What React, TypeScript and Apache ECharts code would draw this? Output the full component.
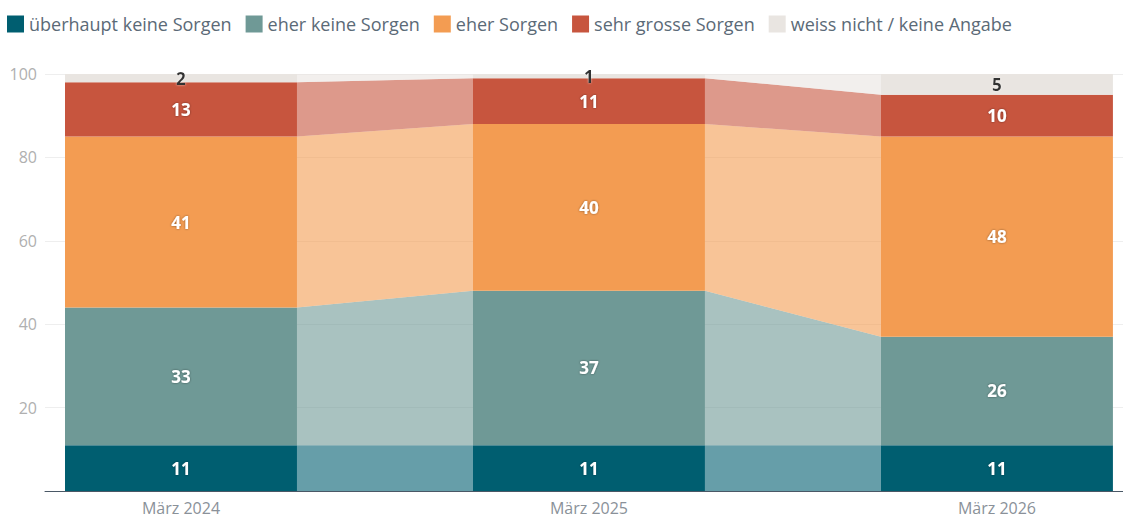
import React, { useEffect, useRef } from "react";
import * as echarts from "echarts";

const categories = ["März 2024", "März 2025", "März 2026"];
const seriesNames = [
  "überhaupt keine Sorgen",
  "eher keine Sorgen",
  "eher Sorgen",
  "sehr grosse Sorgen",
  "weiss nicht / keine Angabe",
];
const ueberhauptKeine = [11, 11, 11];
const eherKeine = [33, 37, 26];
const eherSorgen = [41, 40, 48];
const sehrGrosse = [13, 11, 10];
const weissNicht = [2, 1, 5];
const yTicks = [0, 20, 40, 60, 80, 100];

const colors = ["#005e70", "#6f9996", "#f39c52", "#c7553e", "#e9e5e1"];
const FONT = "'Open Sans', 'Noto Sans', sans-serif";
const HALF = 0.2843;

export default function App() {
  const ref = useRef<HTMLDivElement>(null);
  useEffect(() => {
    if (!ref.current) return;
    const chart = echarts.init(ref.current, null, { renderer: "svg" });
    const layers = [ueberhauptKeine, eherKeine, eherSorgen, sehrGrosse, weissNicht];
    const bases: number[][] = [];
    let acc = categories.map(() => 0);
    layers.forEach((vals) => {
      bases.push(acc.slice());
      acc = acc.map((a, i) => a + vals[i]);
    });

    const series = layers.map((vals, k) => {
      const base = bases[k];
      const color = colors[k];
      const dark = k === 4;
      return {
        type: "custom",
        name: seriesNames[k],
        itemStyle: { color },
        encode: { x: 0, y: [1, 2] },
        data: vals.map((v, i) => [i, base[i], base[i] + v, v]),
        renderItem: (params: any, api: any) => {
          const i = params.dataIndex;
          const x = api.value(0);
          const lo = api.value(1);
          const hi = api.value(2);
          const v = api.value(3);
          const tl = api.coord([x - HALF, hi]);
          const br = api.coord([x + HALF, lo]);
          const children: any[] = [];
          if (i < vals.length - 1) {
            const nlo = base[i + 1];
            const nhi = base[i + 1] + vals[i + 1];
            children.push({
              type: "polygon",
              shape: {
                points: [
                  api.coord([x + HALF, hi]),
                  api.coord([x + 1 - HALF, nhi]),
                  api.coord([x + 1 - HALF, nlo]),
                  api.coord([x + HALF, lo]),
                ],
              },
              style: { fill: color, opacity: 0.6 },
            });
          }
          children.push({
            type: "rect",
            shape: { x: tl[0], y: tl[1], width: br[0] - tl[0], height: br[1] - tl[1] },
            style: { fill: color },
          });
          children.push({
            type: "text",
            z2: 10,
            style: {
              x: (tl[0] + br[0]) / 2,
              y: (tl[1] + br[1]) / 2,
              text: String(v),
              fill: dark ? "#333333" : "#ffffff",
              fontFamily: FONT,
              fontSize: 17,
              fontWeight: "bold",
              align: "center",
              verticalAlign: "middle",
              textShadowColor: dark ? "rgba(255,255,255,0.6)" : "rgba(0,0,0,0.45)",
              textShadowBlur: 2,
            },
          });
          return { type: "group", children };
        },
      };
    });

    chart.setOption({
      animation: false,
      textStyle: { fontFamily: FONT },
      legend: {
        left: 2,
        top: 10,
        itemWidth: 17,
        itemHeight: 17,
        itemGap: 14,
        icon: "rect",
        data: seriesNames,
        textStyle: { color: "#5b6a77", fontSize: 18, fontFamily: FONT },
      },
      grid: { left: 45, right: 0, top: 74, bottom: 29, containLabel: false },
      xAxis: {
        type: "value",
        min: -1 / 3,
        max: 2.309,
        splitLine: { show: false },
        axisTick: { show: false },
        axisLine: { show: true, onZero: false, lineStyle: { color: "#4a5866", width: 1 } },
        axisLabel: {
          customValues: [0, 1, 2],
          formatter: (val: number) => categories[Math.round(val)] ?? "",
          color: "#8a9199",
          fontSize: 16,
          margin: 9,
          fontFamily: FONT,
        },
      },
      yAxis: {
        type: "value",
        min: yTicks[0],
        max: yTicks[yTicks.length - 1],
        interval: 20,
        axisLine: { show: false },
        axisTick: { show: false },
        splitLine: { lineStyle: { color: "#eeeeee", width: 1 } },
        axisLabel: {
          showMinLabel: false,
          color: "#b0b0b0",
          fontSize: 16,
          margin: 8,
          fontFamily: FONT,
        },
      },
      series,
    });
    return () => chart.dispose();
  }, []);
  return <div ref={ref} style={{ width: 1123, height: 520, position: "absolute", left: 0, top: 0 }} />;
}
